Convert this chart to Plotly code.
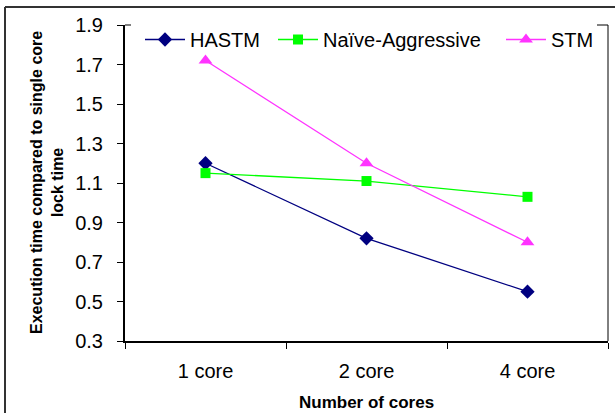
import plotly.graph_objects as go

# Data
categories = ["1 core", "2 core", "4 core"]
hastm = [1.20, 0.82, 0.55]
naive_aggressive = [1.15, 1.11, 1.03]
stm = [1.72, 1.20, 0.80]

series_names = ["HASTM", "Naïve-Aggressive", "STM"]
y_ticks = [0.3, 0.5, 0.7, 0.9, 1.1, 1.3, 1.5, 1.7, 1.9]

W, H = 615, 413
ML, MR, MT, MB = 125, 7, 25, 72
PW, PH = W - ML - MR, H - MT - MB


def px_x(px):
    return (px - ML) / PW


def px_y(py):
    return (H - MB - py) / PH


FONT = "Liberation Sans, Arial, sans-serif"

fig = go.Figure()
styles = [
    dict(color="#000080", symbol="diamond", size=11, legend="legend", lx=140),
    dict(color="#00FF00", symbol="square", size=10, legend="legend2", lx=273),
    dict(color="#FF33FF", symbol="triangle-up", size=12, legend="legend3", lx=501),
]
for name, vals, st in zip(series_names, [hastm, naive_aggressive, stm], styles):
    fig.add_trace(go.Scatter(
        x=categories, y=vals, name=name, mode="lines+markers",
        line=dict(color=st["color"], width=1.3),
        marker=dict(color=st["color"], symbol=st["symbol"], size=st["size"]),
        legend=st["legend"],
    ))

# one legend box per series so each entry sits at its own spot in the top row
legend_common = dict(
    orientation="h", y=1 + 5 / PH, xanchor="left", yanchor="top",
    bgcolor="rgba(0,0,0,0)", borderwidth=0, font=dict(size=20, family=FONT),
    itemwidth=40,
)
legends = {st["legend"]: dict(legend_common, x=px_x(st["lx"])) for st in styles}

line_k = dict(color="black", width=1)
frame_k = dict(color="#333333", width=2)

fig.update_layout(
    width=W, height=H,
    margin=dict(l=ML, r=MR, t=MT, b=MB, pad=0),
    paper_bgcolor="white", plot_bgcolor="white",
    font=dict(family=FONT, size=20, color="black"),
    showlegend=True,
    **legends,
    xaxis=dict(
        type="category", range=[-0.5, 2.5], tickson="boundaries",
        showline=True, linecolor="black", linewidth=2,
        ticks="outside", ticklen=6, tickwidth=1, tickcolor="black",
        showgrid=False, zeroline=False, ticklabelstandoff=11,
        tickfont=dict(size=20),
    ),
    yaxis=dict(
        range=[0.3, 1.9], tickvals=y_ticks, tickformat=".1f",
        showline=True, linecolor="black", linewidth=2,
        ticks="outside", ticklen=6, tickwidth=1, tickcolor="black",
        showgrid=False, zeroline=False, ticklabelstandoff=10,
        tickfont=dict(size=20),
    ),
    shapes=[
        # plot area border: short top segments either side of the legend, full right edge
        dict(type="line", xref="paper", yref="paper", x0=0, x1=px_x(131), y0=1, y1=1,
             line=line_k),
        dict(type="line", xref="paper", yref="paper", x0=px_x(597), x1=1, y0=1, y1=1,
             line=line_k),
        dict(type="line", xref="paper", yref="paper", x0=1, x1=1, y0=1, y1=0,
             line=line_k),
        # chart area frame (left and top edges)
        dict(type="line", xref="paper", yref="paper",
             x0=px_x(5), x1=px_x(5), y0=px_y(7), y1=px_y(413), line=frame_k),
        dict(type="line", xref="paper", yref="paper",
             x0=px_x(5), x1=px_x(615), y0=px_y(7), y1=px_y(7), line=frame_k),
    ],
    annotations=[
        dict(text="<b>Execution time compared to single core<br>lock time</b>",
             xref="paper", yref="paper", x=px_x(47), y=0.5,
             xanchor="center", yanchor="middle", textangle=-90,
             showarrow=False, font=dict(size=16, family=FONT)),
        dict(text="<b>Number of cores</b>",
             xref="paper", yref="paper", x=0.5, y=px_y(402),
             xanchor="center", yanchor="middle",
             showarrow=False, font=dict(size=17, family=FONT)),
    ],
)

fig.write_html("out.html")
